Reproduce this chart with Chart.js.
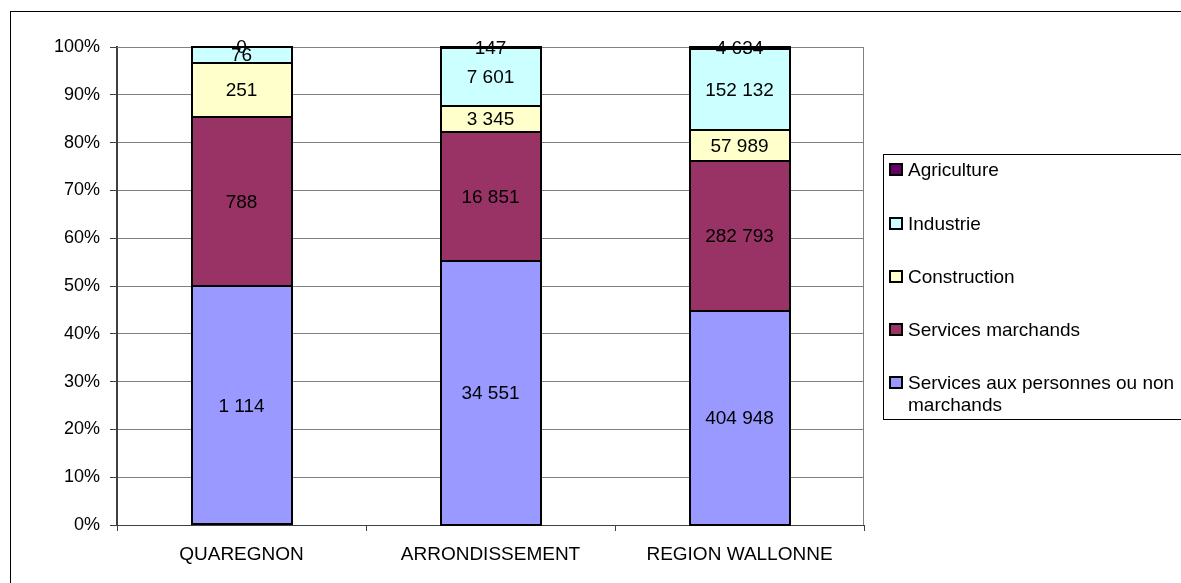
<!DOCTYPE html>
<html>
<head>
<meta charset="utf-8">
<script src="https://cdn.jsdelivr.net/npm/chart.js@4/dist/chart.umd.min.js"></script>
<style>
  html, body { margin: 0; padding: 0; background: #fff; }
  #wrap { position: relative; width: 1181px; height: 583px; overflow: hidden; }
  #frame { position: absolute; left: 10px; top: 11px; width: 1200px; height: 600px; border: 1px solid #000; }
  #chart { position: absolute; left: 0; top: 0; }
  #legend {
    position: absolute; left: 883px; top: 154px; width: 320px; height: 266px;
    border: 1px solid #000; box-sizing: border-box;
    font: 19px "Liberation Sans", Arial, sans-serif; color: #000;
  }
  .item { position: absolute; left: 5px; width: 300px; line-height: 22px; }
  .sw { position: absolute; left: 0; top: 4px; width: 14px; height: 13px; border: 2px solid #000; box-sizing: border-box; }
  .lbl { margin-left: 19px; display: block; }
</style>
</head>
<body>
<div id="wrap">
  <div id="frame"></div>
  <canvas id="chart" width="1181" height="583"></canvas>
  <div id="legend"></div>
</div>
<script>
// Data (raw counts, shown as 100% stacked)
const categories = ['QUAREGNON', 'ARRONDISSEMENT', 'REGION WALLONNE'];
const seriesNames = ['Services aux personnes ou non marchands', 'Services marchands', 'Construction', 'Industrie', 'Agriculture'];
const servicesPersonnes = [1114, 34551, 404948];
const servicesMarchands = [788, 16851, 282793];
const construction = [251, 3345, 57989];
const industrie = [76, 7601, 152132];
const agriculture = [0, 147, 4634];
const yTicks = [0, 10, 20, 30, 40, 50, 60, 70, 80, 90, 100];

const colors = ['#9999FF', '#993366', '#FFFFCC', '#CCFFFF', '#660066'];
const raw = [servicesPersonnes, servicesMarchands, construction, industrie, agriculture];
const totals = categories.map((_, i) => raw.reduce((s, arr) => s + arr[i], 0));
const FONT = '"Liberation Sans", Arial, sans-serif';

const fmt = v => String(v).replace(/\B(?=(\d{3})+(?!\d))/g, ' ');

const datasets = raw.map((arr, k) => ({
  label: seriesNames[k],
  data: arr.map((v, i) => v / totals[i] * 100),
  counts: arr,
  backgroundColor: colors[k],
  borderWidth: 0,
  barPercentage: 0.4,
  categoryPercentage: 1
}));

// black outline on every segment + the value in its middle
const segLabels = {
  id: 'segLabels',
  afterDatasetsDraw(chart) {
    const ctx = chart.ctx;
    ctx.save();
    ctx.strokeStyle = '#000';
    ctx.lineWidth = 2;
    chart.data.datasets.forEach((ds, k) => {
      chart.getDatasetMeta(k).data.forEach(bar => {
        const top = Math.min(bar.y, bar.base), h = Math.abs(bar.base - bar.y);
        ctx.strokeRect(Math.round(bar.x - bar.width / 2), Math.round(top), Math.round(bar.width), Math.round(h));
      });
    });
    ctx.font = '19px ' + FONT;
    ctx.fillStyle = '#000';
    ctx.textAlign = 'center';
    ctx.textBaseline = 'middle';
    chart.data.datasets.forEach((ds, k) => {
      chart.getDatasetMeta(k).data.forEach((bar, i) => {
        const y = (bar.y + bar.base) / 2;
        ctx.fillText(fmt(ds.counts[i]), bar.x, y + 1);
      });
    });
    ctx.restore();
  }
};

// gray border around the plot area
const plotBorder = {
  id: 'plotBorder',
  beforeDatasetsDraw(chart) {
    const a = chart.chartArea, ctx = chart.ctx;
    ctx.save();
    ctx.strokeStyle = '#808080';
    ctx.lineWidth = 1;
    ctx.beginPath();
    ctx.moveTo(a.left, a.top + 0.5);
    ctx.lineTo(a.right - 0.5, a.top + 0.5);
    ctx.lineTo(a.right - 0.5, a.bottom);
    ctx.stroke();
    ctx.restore();
  }
};

new Chart(document.getElementById('chart'), {
  type: 'bar',
  data: { labels: categories, datasets },
  plugins: [segLabels, plotBorder],
  options: {
    responsive: false,
    animation: false,
    layout: { padding: { top: 47, right: 317, left: 0, bottom: 0 } },
    plugins: { legend: { display: false }, tooltip: { enabled: false } },
    scales: {
      x: {
        stacked: true,
        afterFit(s) { s.height = 58; },
        grid: { display: true, offset: true, drawOnChartArea: false, tickLength: 6, color: '#404040' },
        border: { color: '#404040', width: 1 },
        ticks: { color: '#000', padding: 12, font: { family: FONT, size: 19 } }
      },
      y: {
        stacked: true,
        min: 0, max: 100,
        afterFit(s) { s.width = 117; },
        afterBuildTicks(s) { s.ticks = yTicks.map(v => ({ value: v })); },
        grid: { color: '#808080', tickLength: 7, tickColor: '#404040' },
        border: { color: '#404040', width: 2 },
        ticks: {
          color: '#000', padding: 10,
          font: { family: FONT, size: 18 },
          callback: v => v + '%'
        }
      }
    }
  }
});

// legend box (reverse order like the reference)
const legend = document.getElementById('legend');
const tops = [4, 58, 111, 164, 217];
seriesNames.slice().reverse().forEach((name, j) => {
  const k = seriesNames.length - 1 - j;
  const it = document.createElement('div');
  it.className = 'item';
  it.style.top = tops[j] + 'px';
  it.innerHTML = '<span class="sw" style="background:' + colors[k] + '"></span><span class="lbl">' + name + '</span>';
  legend.appendChild(it);
});
</script>
</body>
</html>
